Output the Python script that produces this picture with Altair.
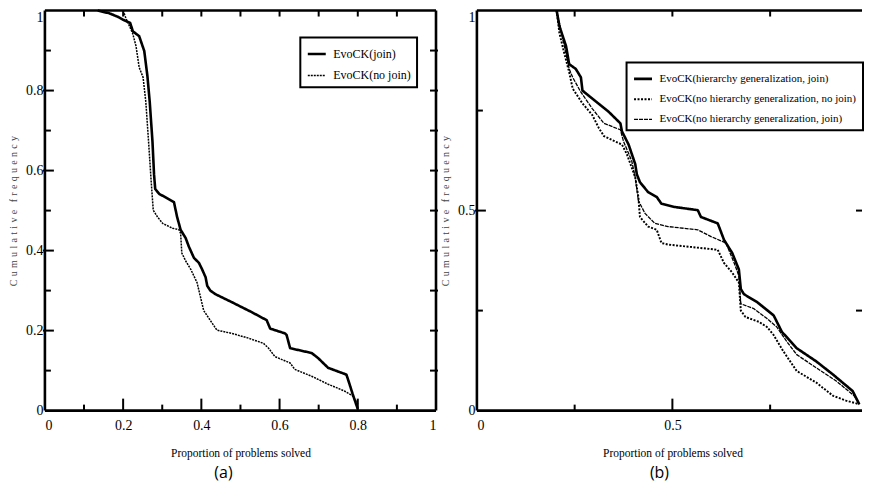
import altair as alt
import pandas as pd

# ---------------- Panel (a) data ----------------
a_labels = ["EvoCK(join)", "EvoCK(no join)"]
a_join_x = [0.135, 0.165, 0.185, 0.200, 0.218, 0.225, 0.241, 0.254, 0.262, 0.268, 0.275, 0.279, 0.282,
            0.292, 0.330, 0.338, 0.347, 0.360, 0.368, 0.381, 0.394, 0.402, 0.411, 0.415, 0.423, 0.436,
            0.478, 0.529, 0.567, 0.576, 0.614, 0.618, 0.627, 0.682, 0.699, 0.724, 0.771, 0.779, 0.787, 0.800]
a_join_y = [1.000, 0.993, 0.985, 0.977, 0.969, 0.948, 0.936, 0.899, 0.837, 0.772, 0.673, 0.591, 0.554,
            0.542, 0.521, 0.484, 0.452, 0.431, 0.410, 0.382, 0.369, 0.353, 0.333, 0.312, 0.300, 0.291,
            0.271, 0.246, 0.226, 0.205, 0.193, 0.189, 0.156, 0.144, 0.131, 0.107, 0.090, 0.066, 0.041, 0.004]
a_nojoin_x = [0.200, 0.207, 0.224, 0.233, 0.241, 0.251, 0.258, 0.265, 0.271, 0.277, 0.288, 0.301, 0.326,
              0.343, 0.347, 0.350, 0.360, 0.373, 0.389, 0.398, 0.406, 0.428, 0.440, 0.478, 0.521, 0.559,
              0.572, 0.588, 0.627, 0.639, 0.682, 0.724, 0.766, 0.787, 0.800]
a_nojoin_y = [1.000, 0.981, 0.944, 0.911, 0.858, 0.833, 0.772, 0.673, 0.583, 0.501, 0.484, 0.468, 0.456,
              0.452, 0.443, 0.394, 0.374, 0.353, 0.320, 0.283, 0.250, 0.218, 0.201, 0.193, 0.181, 0.168,
              0.156, 0.135, 0.119, 0.103, 0.086, 0.066, 0.049, 0.037, 0.016]

# ---------------- Panel (b) data ----------------
b_labels = ["EvoCK(hierarchy generalization, join)",
            "EvoCK(no hierarchy generalization, no join)",
            "EvoCK(no hierarchy generalization, join)"]
b_hj_x = [0.204, 0.211, 0.228, 0.236, 0.253, 0.266, 0.270, 0.295, 0.337, 0.367, 0.371, 0.388, 0.405,
          0.409, 0.417, 0.438, 0.460, 0.472, 0.506, 0.565, 0.573, 0.616, 0.632, 0.653, 0.670, 0.675,
          0.683, 0.717, 0.759, 0.780, 0.818, 0.868, 0.911, 0.961, 0.978]
b_hj_y = [1.000, 0.961, 0.911, 0.866, 0.854, 0.833, 0.800, 0.780, 0.747, 0.718, 0.698, 0.665, 0.616,
          0.591, 0.571, 0.546, 0.534, 0.517, 0.509, 0.501, 0.484, 0.468, 0.427, 0.394, 0.353, 0.304,
          0.291, 0.271, 0.238, 0.197, 0.156, 0.123, 0.090, 0.049, 0.016]
b_nn_x = [0.204, 0.211, 0.223, 0.236, 0.245, 0.270, 0.295, 0.312, 0.325, 0.371, 0.384, 0.405, 0.413,
          0.417, 0.438, 0.460, 0.472, 0.489, 0.616, 0.632, 0.653, 0.670, 0.675, 0.687, 0.721, 0.742,
          0.759, 0.784, 0.818, 0.868, 0.911, 0.944, 0.978]
b_nn_y = [1.000, 0.944, 0.895, 0.846, 0.805, 0.768, 0.739, 0.706, 0.686, 0.665, 0.640, 0.583, 0.534,
          0.484, 0.460, 0.452, 0.419, 0.415, 0.402, 0.369, 0.345, 0.320, 0.250, 0.234, 0.222, 0.209,
          0.189, 0.148, 0.099, 0.070, 0.037, 0.025, 0.016]
b_nj_x = [0.204, 0.211, 0.236, 0.245, 0.266, 0.295, 0.325, 0.367, 0.375, 0.396, 0.405, 0.413, 0.430,
          0.455, 0.489, 0.565, 0.599, 0.637, 0.658, 0.670, 0.675, 0.708, 0.742, 0.767, 0.793, 0.818,
          0.868, 0.919, 0.965, 0.978]
b_nj_y = [1.000, 0.969, 0.854, 0.833, 0.796, 0.755, 0.718, 0.702, 0.673, 0.624, 0.583, 0.525, 0.493,
          0.468, 0.460, 0.452, 0.435, 0.419, 0.369, 0.337, 0.267, 0.255, 0.230, 0.209, 0.172, 0.140,
          0.107, 0.074, 0.037, 0.016]

# tick positions
a_major = [0.2, 0.4, 0.6, 0.8]
a_minor = [0.1, 0.3, 0.5, 0.7, 0.9]
a_labels_vals = [0, 0.2, 0.4, 0.6, 0.8, 1]
b_major = [0.5]
b_minor = [0.25, 0.75]
b_x_label_vals = [0, 0.5]
b_y_label_vals = [0, 0.5, 1]

SERIF = "Liberation Serif"
W1, H = 392, 401
B_DOM = [0, 0.985]
W2 = round(W1 * B_DOM[1])
SP = "\u00a0\u200a"
YTITLE = SP.join("Cumulative") + "\u00a0" * 3 + SP.join("frequency")


def frame_df(series_list):
    rows = []
    for name, xs, ys in series_list:
        for i, (xv, yv) in enumerate(zip(xs, ys)):
            rows.append({"x": xv, "y": yv, "series": name, "order": i})
    return pd.DataFrame(rows)


def make_axes(xvals, yvals):
    lbl_base = {"condition": {"test": "datum.value == 1", "value": "top"}, "value": "middle"}
    xa = alt.Axis(values=xvals, format="~g", ticks=False, tickSize=0, domain=False, grid=False,
                  labelFont=SERIF, labelFontSize=14, labelColor="black", labelPadding=8,
                  title="Proportion of problems solved", titleFont=SERIF, titleFontSize=11.5,
                  titleFontWeight="normal", titleColor="black", titlePadding=15, titleX=W1 / 2)
    ya = alt.Axis(values=yvals, format="~g", ticks=False, tickSize=0, domain=False, grid=False,
                  labelFont=SERIF, labelFontSize=14, labelColor="black", labelPadding=2,
                  labelBaseline=lbl_base,
                  title=YTITLE, titleFont=SERIF, titleFontSize=10, titleFontWeight="normal",
                  titleColor="#444444", titlePadding=7)
    return xa, ya


def panel(df, labels, dashes, widths, xdom, xvals, yvals, W, major, minor, legend_xy, legend_fs,
          sub, sub_dx, draw_frame_right):
    xa, ya = make_axes(xvals, yvals)
    xs = alt.Scale(domain=xdom, nice=False, zero=False)
    ys = alt.Scale(domain=[0, 1], nice=False, zero=False)

    def X():
        return alt.X("x:Q", scale=xs, axis=xa)

    def Y():
        return alt.Y("y:Q", scale=ys, axis=ya)

    leg = alt.Legend(title=None, orient="none", legendX=legend_xy[0], legendY=legend_xy[1],
                     direction="vertical", strokeColor="black", padding=6, symbolType="stroke",
                     symbolSize=324, symbolStrokeColor="black", labelFont=SERIF,
                     labelFontSize=legend_fs, labelColor="black", labelLimit=400, rowPadding=5,
                     fillColor="white", labelOffset=6)
    lines = alt.Chart(df).mark_line(color="black", strokeCap="butt", strokeJoin="round").encode(
        x=X(), y=Y(),
        strokeDash=alt.StrokeDash("series:N", scale=alt.Scale(domain=labels, range=dashes),
                                  legend=leg, sort=labels),
        strokeWidth=alt.StrokeWidth("series:N", scale=alt.Scale(domain=labels, range=widths),
                                    legend=leg, sort=labels),
        order="order:Q",
    )
    layers = []

    def xt(vals, y0, y1):
        return alt.Chart(pd.DataFrame({"x": vals})).mark_rule(color="black", strokeWidth=2).encode(
            x=X(), y=alt.value(y0), y2=alt.value(y1))

    def yt(vals, x0, x1):
        return alt.Chart(pd.DataFrame({"y": vals})).mark_rule(color="black", strokeWidth=2).encode(
            y=Y(), x=alt.value(x0), x2=alt.value(x1))

    allv = sorted(major + minor)
    layers += [xt(major, H, H - 12), xt(minor, H, H - 6), xt(allv, 0, 6),
               yt(major, -2, 9), yt(minor, 0, 6), yt(allv, W - 6, W + (2 if draw_frame_right else 0))]

    one = pd.DataFrame({"k": [0]})
    fr = alt.Chart(one).mark_rule(color="black", strokeWidth=2.6)
    frames = [fr.encode(x=alt.value(0), x2=alt.value(W), y=alt.value(0)),
              fr.encode(x=alt.value(0), x2=alt.value(W), y=alt.value(H)),
              fr.encode(x=alt.value(0), y=alt.value(0), y2=alt.value(H))]
    if draw_frame_right:
        frames.append(fr.encode(x=alt.value(W), y=alt.value(0), y2=alt.value(H)))

    return alt.layer(*layers, *frames, lines).properties(
        width=W, height=H,
        title=alt.TitleParams(sub, orient="bottom", font="Open Sans", fontSize=16,
                              fontWeight="normal", color="black", offset=6, dx=sub_dx),
    )


df_a = frame_df([(a_labels[0], a_join_x, a_join_y), (a_labels[1], a_nojoin_x, a_nojoin_y)])
df_b = frame_df([(b_labels[0], b_hj_x, b_hj_y), (b_labels[1], b_nn_x, b_nn_y),
                 (b_labels[2], b_nj_x, b_nj_y)])

left = panel(df_a, a_labels, [[1, 0], [2, 1]], [2.6, 1.5], [0, 1], a_labels_vals, a_labels_vals,
             W1, a_major, a_minor, (256, 27), 12, "(a)", -17, True)
right = panel(df_b, b_labels, [[1, 0], [2, 1.5], [4, 1]], [2.6, 1.3, 2.0], B_DOM, b_x_label_vals,
              b_y_label_vals, W2, b_major, b_minor, (W2 - 236, 52), 11, "(b)", -10, False)

chart = alt.hconcat(left, right, spacing=0).resolve_scale(
    x="independent", y="independent", strokeDash="independent", strokeWidth="independent"
).resolve_legend(strokeDash="independent", strokeWidth="independent").configure_view(
    stroke="transparent"
).configure_legend(strokeWidth=2).properties(
    padding={"left": 0, "top": 0, "right": 0, "bottom": 0},
    background="white",
)

chart.save("out.html", embed_options={"renderer": "svg", "actions": False})
